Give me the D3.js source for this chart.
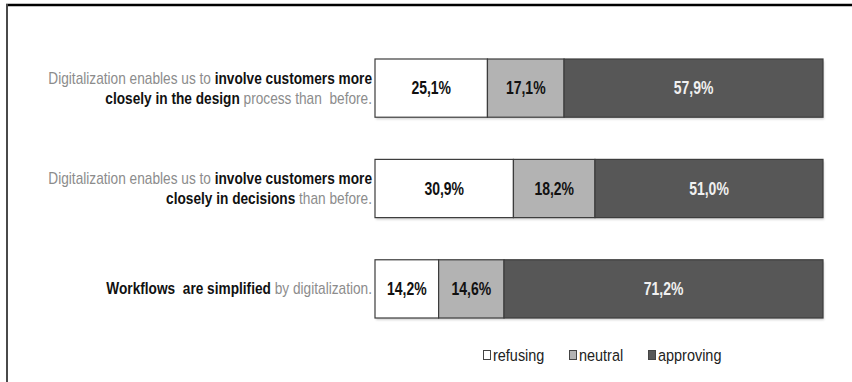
<!DOCTYPE html>
<html>
<head>
<meta charset="utf-8">
<script src="https://cdn.jsdelivr.net/npm/d3@7"></script>
<style>
  html, body { margin: 0; padding: 0; background: #fff; }
  svg { display: block; font-family: "Liberation Sans", Arial, sans-serif; }
</style>
</head>
<body>
<svg id="chart" width="852" height="382"></svg>
<script>
// Survey statements (each line is a list of [text, emphasised?] runs)
const statements = [
  [
    [["Digitalization enables us to ", false], ["involve customers more", true]],
    [["closely in the design", true], [" process than  before.", false]]
  ],
  [
    [["Digitalization enables us to ", false], ["involve customers more", true]],
    [["closely in decisions", true], [" than before.", false]]
  ],
  [
    [["Workflows  are simplified", true], [" by digitalization.", false]]
  ]
];
const statementIds = ["design", "decisions", "workflows"];

const seriesNames = ["refusing", "neutral", "approving"];
const refusing  = [25.1, 30.9, 14.2];
const neutral   = [17.1, 18.2, 14.6];
const approving = [57.9, 51.0, 71.2];
const valueLabels = [
  ["25,1%", "17,1%", "57,9%"],
  ["30,9%", "18,2%", "51,0%"],
  ["14,2%", "14,6%", "71,2%"]
];

const fills = { refusing: "#ffffff", neutral: "#b3b3b3", approving: "#575757" };
const textFills = { refusing: "#111", neutral: "#111", approving: "#f0f0f0" };

const svg = d3.select("#chart");

// Frame: heavy rule on top, thinner rule down the left side
svg.append("line").attr("x1", 6).attr("x2", 852).attr("y1", 5).attr("y2", 5)
  .attr("stroke", "#000").attr("stroke-width", 2.5);
svg.append("line").attr("x1", 7).attr("x2", 7).attr("y1", 4).attr("y2", 382)
  .attr("stroke", "#4a4a4a").attr("stroke-width", 2);

const x = d3.scaleLinear().domain([0, 100]).range([375, 823]);
const y = d3.scaleBand().domain(statementIds).range([59, 318]).paddingInner(0.42).paddingOuter(0);

// Stack the three answer groups for each statement
const rows = statementIds.map((id, i) => ({
  id, refusing: refusing[i], neutral: neutral[i], approving: approving[i]
}));
const stacked = d3.stack().keys(seriesNames)(rows);

// soft shadow under each bar
const defs = svg.append("defs");
const f = defs.append("filter").attr("id", "shadow").attr("x", "-5%").attr("y", "-20%").attr("width", "110%").attr("height", "150%");
f.append("feDropShadow").attr("dx", 1).attr("dy", 2).attr("stdDeviation", 1.2).attr("flood-color", "#000").attr("flood-opacity", 0.18);

svg.append("g").selectAll("rect")
  .data(rows).join("rect")
  .attr("x", x(0)).attr("width", x(100) - x(0))
  .attr("y", d => y(d.id)).attr("height", y.bandwidth())
  .attr("fill", "#fff").attr("filter", "url(#shadow)");

const layer = svg.append("g").selectAll("g")
  .data(stacked).join("g")
  .attr("fill", d => fills[d.key]);

layer.selectAll("rect")
  .data(d => d.map(s => ({ key: d.key, s })))
  .join("rect")
  .attr("x", d => x(d.s[0]))
  .attr("width", d => x(Math.min(d.s[1], 100)) - x(d.s[0]))
  .attr("y", d => y(d.s.data.id))
  .attr("height", y.bandwidth())
  .attr("stroke", "#3c3c3c")
  .attr("stroke-width", 1.2);

layer.selectAll("text")
  .data(d => d.map((s, i) => ({ key: d.key, s, i, ki: seriesNames.indexOf(d.key) })))
  .join("text")
  .attr("transform", d => `translate(${(x(d.s[0]) + x(Math.min(d.s[1], 100))) / 2},${y(d.s.data.id) + y.bandwidth() / 2}) scale(0.8,1)`)
  .attr("dy", "0.36em")
  .attr("text-anchor", "middle")
  .attr("font-size", 17.5)
  .attr("font-weight", "bold")
  .attr("fill", d => textFills[d.key])
  .text(d => valueLabels[d.i][d.ki]);

// Statement labels, right-aligned against the bars
const labelG = svg.append("g");
statements.forEach((lines, i) => {
  const cy = y(statementIds[i]) + y.bandwidth() / 2;
  const lh = 20;
  lines.forEach((runs, li) => {
    const t = labelG.append("text")
      .attr("transform", `translate(${x(0) - 3},${cy + (li - (lines.length - 1) / 2) * lh}) scale(0.855,1)`)
      .attr("dy", "0.35em")
      .attr("text-anchor", "end")
      .attr("font-size", 16)
      .style("white-space", "pre");
    runs.forEach(([txt, strong]) => {
      t.append("tspan").text(txt)
        .attr("font-weight", strong ? "bold" : "normal")
        .attr("fill", strong ? "#111" : "#8c8c8c");
    });
  });
});

// Legend
const legendX = [483, 569, 648];
const legend = svg.append("g").selectAll("g")
  .data(seriesNames).join("g")
  .attr("transform", (d, i) => `translate(${legendX[i]},355)`);
legend.append("rect").attr("x", 0.5).attr("y", -4.5).attr("width", 7).attr("height", 9)
  .attr("fill", d => fills[d]).attr("stroke", "#444").attr("stroke-width", 1);
legend.append("text")
  .attr("transform", "translate(10,0) scale(0.85,1)")
  .attr("dy", "0.35em")
  .attr("font-size", 17).attr("fill", "#222").text(d => d);
</script>
</body>
</html>
